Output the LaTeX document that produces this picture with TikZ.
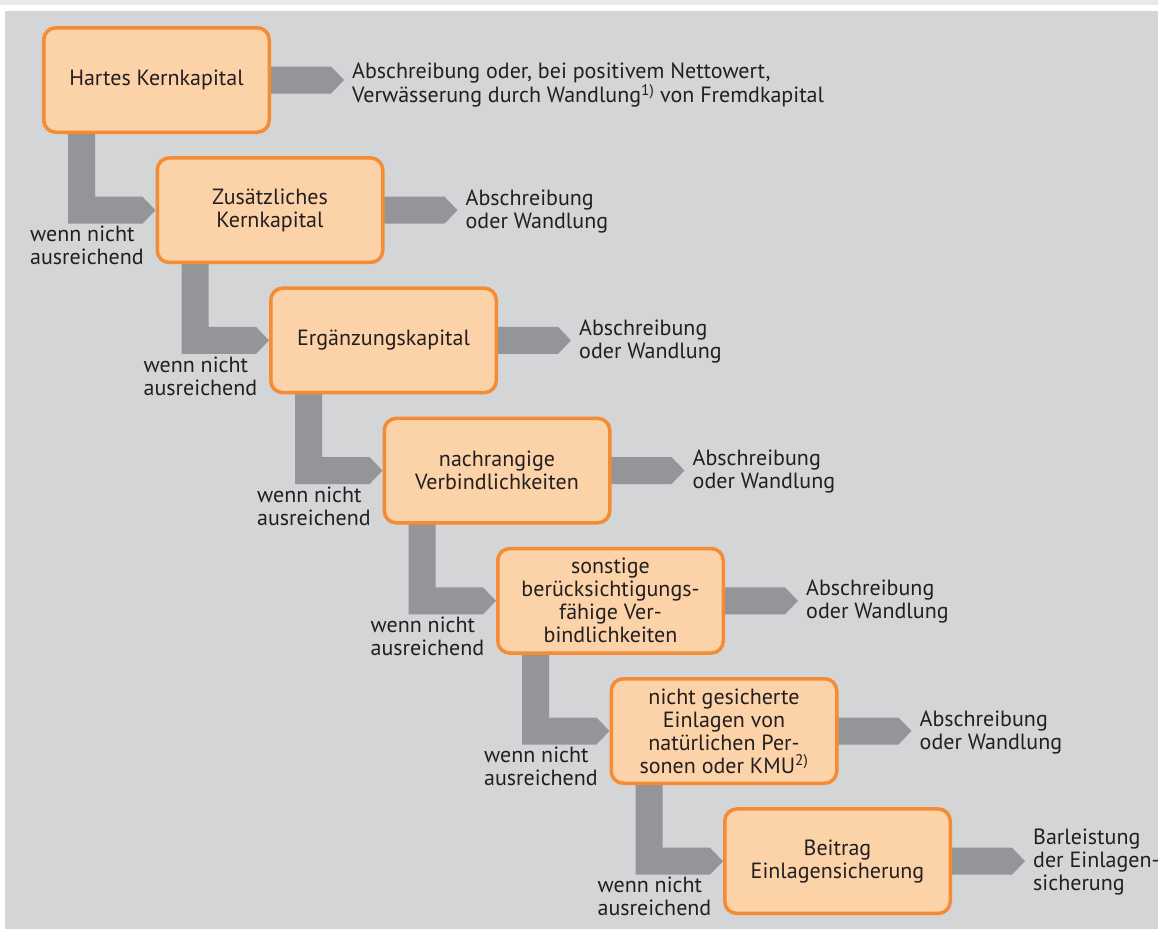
\documentclass[tikz,border=0pt]{standalone}
\usepackage{fontspec}
\setmainfont{PT Sans}
\usetikzlibrary{calc,backgrounds}
\definecolor{panel}{RGB}{212,213,215}
\definecolor{strip}{RGB}{233,233,235}
\definecolor{bar}{RGB}{147,149,152}
\definecolor{boxfill}{RGB}{252,210,168}
\definecolor{boxline}{RGB}{243,140,52}
\definecolor{txt}{RGB}{35,31,32}
\begin{document}
\begin{tikzpicture}[x=1pt,y=-1pt,
  font=\fontsize{22}{23}\selectfont, text=txt,
  stepbox/.style={draw=boxline, fill=boxfill, line width=3.5pt, rounded corners=12pt,
    minimum width=225.5pt, minimum height=104.5pt, align=center, inner sep=0pt},
  barfill/.style={fill=bar, draw=none},
  outlbl/.style={anchor=west, align=left, inner sep=0pt},
  condlbl/.style={anchor=north west, align=left, inner sep=0pt}]
\useasboundingbox (0,0) rectangle (1158,929);
% boxes
\node[stepbox] (b1) at (156.5,80)   {Hartes Kernkapital};
\node[stepbox] (b2) at (270,210.2)  {Zusätzliches\\Kernkapital};
\node[stepbox] (b3) at (383.5,340.4){Ergänzungskapital};
\node[stepbox] (b4) at (497,470.6)  {nachrangige\\Verbindlichkeiten};
\node[stepbox] (b5) at (610.5,600.8){sonstige\\berücksichtigungs-\\fähige Ver-\\bindlichkeiten};
\node[stepbox] (b6) at (724,731)    {nicht gesicherte\\Einlagen von\\natürlichen Per-\\sonen oder KMU\textsuperscript{2)}};
\node[stepbox] (b7) at (837.5,861.2){Beitrag\\Einlagensicherung};
% outcome labels
\node[outlbl] (o1) at ($(b1.east)+(81,5)$) {Abschreibung oder, bei positivem Nettowert,\\Verwässerung durch Wandlung\textsuperscript{1)} von Fremdkapital};
\node[outlbl] (o2) at ($(b2.east)+(81,1)$) {Abschreibung\\oder Wandlung};
\node[outlbl] (o3) at ($(b3.east)+(81,1)$) {Abschreibung\\oder Wandlung};
\node[outlbl] (o4) at ($(b4.east)+(81,1)$) {Abschreibung\\oder Wandlung};
\node[outlbl] (o5) at ($(b5.east)+(81,1)$) {Abschreibung\\oder Wandlung};
\node[outlbl] (o6) at ($(b6.east)+(81,1)$) {Abschreibung\\oder Wandlung};
\node[outlbl] (o7) at ($(b7.east)+(81,1)$) {Barleistung\\der Einlagen-\\sicherung};
% condition labels
\node[condlbl] (c1) at ($(b1.west |- b2.west)+(-12,16)$) {wenn nicht\\ausreichend};
\node[condlbl] (c2) at ($(b2.west |- b3.west)+(-12,16)$) {wenn nicht\\ausreichend};
\node[condlbl] (c3) at ($(b3.west |- b4.west)+(-12,16)$) {wenn nicht\\ausreichend};
\node[condlbl] (c4) at ($(b4.west |- b5.west)+(-12,16)$) {wenn nicht\\ausreichend};
\node[condlbl] (c5) at ($(b5.west |- b6.west)+(-12,16)$) {wenn nicht\\ausreichend};
\node[condlbl] (c6) at ($(b6.west |- b7.west)+(-12,16)$) {wenn nicht\\ausreichend};
\begin{pgfonlayer}{background}
  \fill[white] (0,0) rectangle (1158,929);
  \fill[strip] (0,0) rectangle (1158,5);
  \fill[panel] (5,11) rectangle (1158,929);
  % elbow connectors
  \foreach \a/\b in {b1/b2,b2/b3,b3/b4,b4/b5,b5/b6,b6/b7}{
    \coordinate (s) at ($(\a.south west)+(26,-2)$);
    \coordinate (t) at (\b.west);
    \fill[barfill] (s) -- ++(27,0) |- ($(t)+(-13,-13.5)$) -- (t) -- ($(t)+(-13,13.5)$) -| (s) -- cycle;
  }
  % outcome arrows
  \foreach \a in {b1,b2,b3,b4,b5,b6,b7}{
    \fill[barfill] ($(\a.east)+(-2,-13.5)$) -- ($(\a.east)+(60,-13.5)$) -- ($(\a.east)+(73,0)$)
      -- ($(\a.east)+(60,13.5)$) -- ($(\a.east)+(-2,13.5)$) -- cycle;
  }
\end{pgfonlayer}
\end{tikzpicture}
\end{document}
